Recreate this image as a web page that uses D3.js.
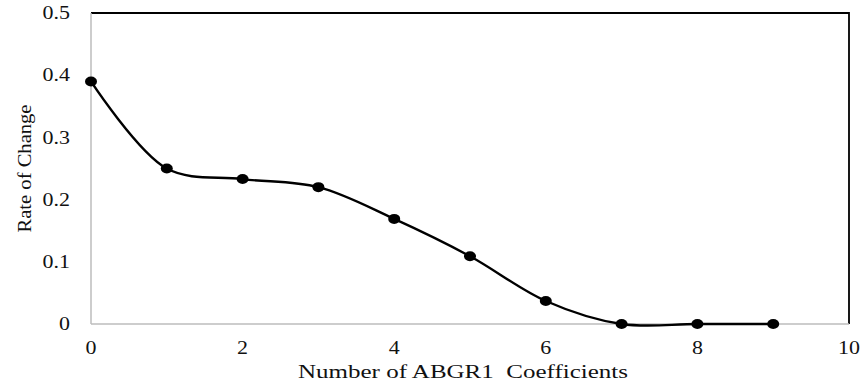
<!DOCTYPE html>
<html lang="en">
<head>
<meta charset="UTF-8">
<title>Rate of Change vs Number of ABGR1 Coefficients</title>
<script src="https://d3js.org/d3.v7.min.js"></script>
<style>
html, body {
  margin: 0;
  padding: 0;
  background-color: white;
}
svg text {
  font-family: 'Liberation Serif', 'Times New Roman', serif;
  fill: #111;
}
.tick-label { font-size: 18px; }
.axis-title { font-size: 18px; }
</style>
</head>
<body>
<div id="chart"></div>
<script>

// --------------------------------------
// Data
// --------------------------------------

var coefficients = [0, 1, 2, 3, 4, 5, 6, 7, 8, 9];
var rateOfChange = [0.39, 0.25, 0.233, 0.22, 0.169, 0.109, 0.037, 0, 0, 0];
var xTicks = [0, 2, 4, 6, 8, 10];
var yTicks = [0, 0.1, 0.2, 0.3, 0.4, 0.5];
var xTitle = "Number of ABGR1\u00a0 Coefficients";
var yTitle = "Rate of Change";

// --------------------------------------
// Size and margin
// --------------------------------------

var totalWidth = 863;
var totalHeight = 392;
var margin = {top: 13, right: 14, bottom: 68, left: 91};
var stretch = 1.22; // source text is a little wide

var svg = d3.select("#chart")
  .append("svg")
  .attr("width", totalWidth)
  .attr("height", totalHeight);

// --------------------------------------
// Scales
// --------------------------------------

var xscale = d3.scaleLinear()
  .domain([0, 10])
  .range([margin.left, totalWidth - margin.right]);

var yscale = d3.scaleLinear()
  .domain([0, 0.5])
  .range([totalHeight - margin.bottom, margin.top]);

// widen a text element horizontally
function widen(sel) {
  sel.each(function() {
    var w = this.getComputedTextLength();
    d3.select(this)
      .attr("textLength", w * stretch)
      .attr("lengthAdjust", "spacingAndGlyphs");
  });
}

// --------------------------------------
// Frame
// --------------------------------------

// top and right borders are black
svg.append("path")
  .attr("d", `M${xscale(0)},${yscale(0.5)}H${xscale(10)}V${yscale(0)}`)
  .attr("fill", "none")
  .attr("stroke", "#000")
  .attr("stroke-width", 1.8);

// axis lines are light grey
svg.append("line")
  .attr("x1", xscale(0)).attr("x2", xscale(0))
  .attr("y1", yscale(0.5)).attr("y2", yscale(0))
  .attr("stroke", "#bdbdbd")
  .attr("stroke-width", 1.5);

svg.append("line")
  .attr("x1", xscale(0)).attr("x2", xscale(10))
  .attr("y1", yscale(0)).attr("y2", yscale(0))
  .attr("stroke", "#bdbdbd")
  .attr("stroke-width", 1.5);

// --------------------------------------
// Tick labels
// --------------------------------------

svg.append("g")
  .selectAll("text")
  .data(yTicks)
  .join("text")
  .attr("class", "tick-label")
  .attr("x", 70)
  .attr("y", d => yscale(d))
  .attr("dy", "0.34em")
  .attr("text-anchor", "end")
  .text(d => d === 0 ? "0" : d3.format(".1f")(d))
  .call(widen);

svg.append("g")
  .selectAll("text")
  .data(xTicks)
  .join("text")
  .attr("class", "tick-label")
  .attr("x", d => xscale(d))
  .attr("y", yscale(0) + 24)
  .attr("dy", "0.34em")
  .attr("text-anchor", "middle")
  .text(d => d)
  .call(widen);

// --------------------------------------
// Axis titles
// --------------------------------------

svg.append("text")
  .attr("class", "axis-title")
  .attr("x", 463)
  .attr("y", 378)
  .attr("text-anchor", "middle")
  .text(xTitle)
  .attr("textLength", 330)
  .attr("lengthAdjust", "spacingAndGlyphs");

svg.append("text")
  .attr("class", "axis-title")
  .attr("transform", `translate(31,${(yscale(0) + yscale(0.5)) / 2}) rotate(-90)`)
  .attr("text-anchor", "middle")
  .text(yTitle)
  .attr("textLength", 128)
  .attr("lengthAdjust", "spacingAndGlyphs");

// --------------------------------------
// Line and points
// --------------------------------------

var points = coefficients.map((c, i) => ({x: c, y: rateOfChange[i]}));

var line = d3.line()
  .curve(d3.curveCatmullRom.alpha(0.5))
  .x(d => xscale(d.x))
  .y(d => yscale(d.y));

svg.append("path")
  .datum(points)
  .attr("fill", "none")
  .attr("stroke", "#000")
  .attr("stroke-width", 2.4)
  .attr("d", line);

svg.append("g")
  .selectAll("ellipse")
  .data(points)
  .join("ellipse")
  .attr("cx", d => xscale(d.x))
  .attr("cy", d => yscale(d.y))
  .attr("rx", 6)
  .attr("ry", 5)
  .attr("fill", "#000");

</script>
</body>
</html>
